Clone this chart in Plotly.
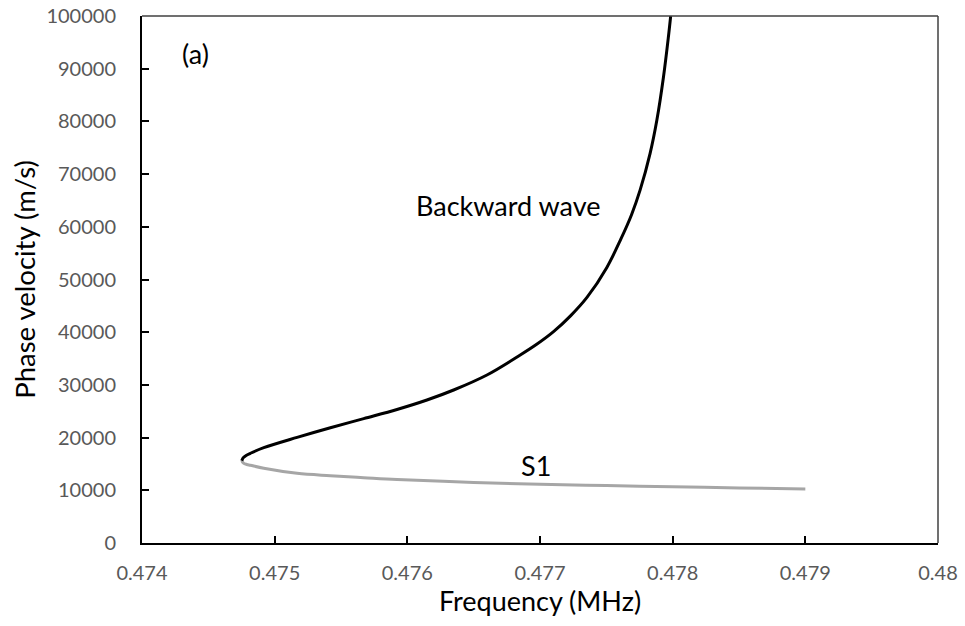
import plotly.graph_objects as go

# Backward wave branch (frequency in MHz, phase velocity in m/s)
bw_freq = [0.474752, 0.474762, 0.474785, 0.474817, 0.474918, 0.475169, 0.475420,
           0.475671, 0.475922, 0.476148, 0.476349, 0.476600, 0.476851, 0.476975,
           0.477102, 0.477230, 0.477354, 0.477504, 0.477610, 0.477690, 0.477755,
           0.477830, 0.477881, 0.477931, 0.477968, 0.477985]
bw_vel = [15600, 16150, 16620, 17020, 18090, 20050, 21880,
          23600, 25330, 27130, 29030, 31880, 35670, 37700,
          40100, 43100, 46600, 52300, 57700, 62300, 67000,
          73940, 80260, 88480, 96070, 100000]

# S1 branch
s1_freq = [0.474752, 0.474765, 0.474790, 0.474817, 0.474918, 0.475169, 0.475420,
           0.475671, 0.475922, 0.476500, 0.477000, 0.477500, 0.478000, 0.478500,
           0.479000]
s1_vel = [15600, 15150, 14900, 14750, 14170, 13220, 12770,
          12400, 12050, 11500, 11130, 10900, 10680, 10450,
          10240]

x_ticks = [0.474, 0.475, 0.476, 0.477, 0.478, 0.479, 0.48]
x_tick_labels = ["0.474", "0.475", "0.476", "0.477", "0.478", "0.479", "0.48"]
y_ticks = [0, 10000, 20000, 30000, 40000, 50000, 60000, 70000, 80000, 90000, 100000]
y_tick_labels = [str(v) for v in y_ticks]

FONT = "Lato"

fig = go.Figure()
fig.add_trace(go.Scatter(x=s1_freq, y=s1_vel, mode="lines",
                         line=dict(color="#A6A6A6", width=3, shape="spline", smoothing=1.0),
                         showlegend=False, hoverinfo="skip"))
fig.add_trace(go.Scatter(x=bw_freq, y=bw_vel, mode="lines",
                         line=dict(color="#000000", width=3, shape="spline", smoothing=1.0),
                         showlegend=False, hoverinfo="skip"))

fig.update_layout(
    width=965, height=626,
    margin=dict(l=141.5, r=27, t=16, b=83),
    paper_bgcolor="white", plot_bgcolor="white",
    font=dict(family=FONT, color="#000000"),
    showlegend=False,
)
fig.update_xaxes(
    range=[0.474, 0.48], tickvals=x_ticks, ticktext=x_tick_labels,
    automargin=False, ticklabeloverflow="allow",
    showgrid=False, zeroline=False,
    showline=True, linecolor="black", linewidth=2,
    ticks="inside", ticklen=7, tickwidth=2, tickcolor="black",
    tickfont=dict(family=FONT, size=20, color="#595959"),
    ticklabelstandoff=11,
    title=dict(text="Frequency (MHz)", font=dict(family=FONT, size=27, color="black"), standoff=3),
)
fig.update_yaxes(
    range=[0, 100000], tickvals=y_ticks, ticktext=y_tick_labels,
    automargin=False, ticklabeloverflow="allow",
    showgrid=False, zeroline=False,
    showline=True, linecolor="black", linewidth=2,
    ticks="inside", ticklen=7, tickwidth=2, tickcolor="black",
    tickfont=dict(family=FONT, size=20, color="#595959"),
    ticklabelstandoff=20,
    title=dict(text="Phase velocity (m/s)", font=dict(family=FONT, size=27.5, color="black"), standoff=3),
)

# top and right borders of the plot box
fig.add_shape(type="line", xref="paper", yref="paper", x0=0, x1=1, y0=1, y1=1,
              line=dict(color="#404040", width=1.5))
fig.add_shape(type="line", xref="paper", yref="paper", x0=1, x1=1, y0=0, y1=1,
              line=dict(color="#404040", width=1.5))

fig.add_annotation(x=0.474403, y=92980, text="(a)", showarrow=False,
                   font=dict(family=FONT, size=27, color="black"))
fig.add_annotation(x=0.476761, y=64135, text="Backward wave", showarrow=False,
                   font=dict(family=FONT, size=27, color="black"))
fig.add_annotation(x=0.476972, y=14800, text="S1", showarrow=False,
                   font=dict(family=FONT, size=27, color="black"))

fig.write_html("out.html", config={"displayModeBar": False},
               post_script="document.body.style.margin='0';")
